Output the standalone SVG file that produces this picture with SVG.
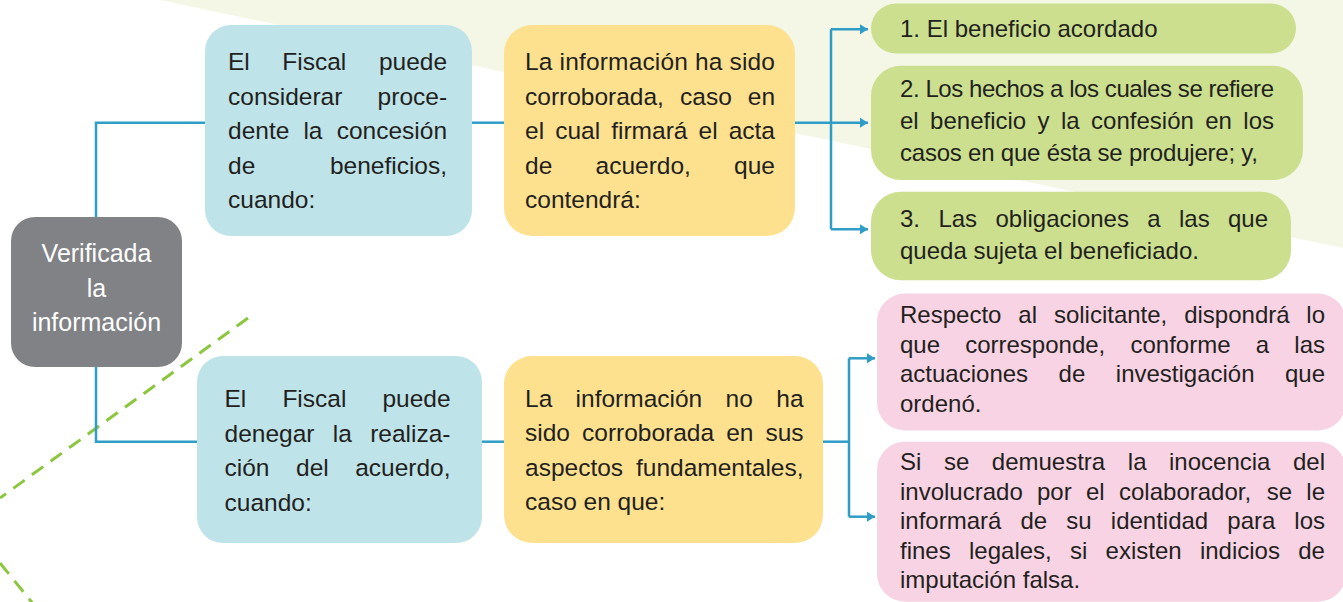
<svg xmlns="http://www.w3.org/2000/svg" width="1343" height="602" viewBox="0 0 1343 602">
<defs>
<style>
.t{font-family:"Liberation Sans",Arial,sans-serif;fill:#231f20}
.b{font-size:24.5px}
.s{font-size:24px}
.w{fill:#ffffff;font-size:25px}
.blue{fill:#bee3e8}
.orange{fill:#fde18f}
.green{fill:#cbdf8e}
.pink{fill:#f8d3e3}
.grey{fill:#818285}
.con{fill:none;stroke:#2f9dc6;stroke-width:2.5}
.dash{fill:none;stroke:#8cc63f;stroke-width:3;stroke-dasharray:14 9}
</style>
<marker id="arr" markerUnits="userSpaceOnUse" markerWidth="9" markerHeight="10" refX="8" refY="5" orient="auto">
<path d="M0,0 L8,5 L0,10 z" fill="#2f9dc6"/>
</marker>
</defs>
<rect width="1343" height="602" fill="#ffffff"/>
<polygon points="160,0 1343,0 1343,248" fill="#f4f7e6"/>
<line class="dash" x1="248" y1="318" x2="0" y2="498"/>
<line class="dash" x1="0" y1="563" x2="34" y2="605"/>

<g id="connectors">
<polyline class="con" points="96,217 96,122.7 205,122.7"/>
<polyline class="con" points="96,367 96,441.7 197,441.7"/>
<line class="con" x1="472" y1="122.7" x2="504" y2="122.7"/>
<line class="con" x1="482" y1="441.7" x2="504" y2="441.7"/>
<line class="con" x1="831" y1="29.3" x2="831" y2="229.3"/>
<line class="con" x1="795" y1="122.7" x2="868" y2="122.7" marker-end="url(#arr)"/>
<line class="con" x1="831" y1="29.3" x2="868" y2="29.3" marker-end="url(#arr)"/>
<line class="con" x1="831" y1="229.3" x2="868" y2="229.3" marker-end="url(#arr)"/>
<line class="con" x1="823" y1="441.7" x2="849" y2="441.7"/>
<line class="con" x1="849" y1="358.3" x2="849" y2="516.7"/>
<line class="con" x1="849" y1="358.3" x2="875" y2="358.3" marker-end="url(#arr)"/>
<line class="con" x1="849" y1="516.7" x2="875" y2="516.7" marker-end="url(#arr)"/>
</g>

<g id="node-verificada">
<rect class="grey" x="11" y="217" width="171" height="150" rx="24"/>
<text class="t w" text-anchor="middle"><tspan x="96.5" y="262">Verificada</tspan><tspan x="96.5" y="296.5">la</tspan><tspan x="96.5" y="331">información</tspan></text>
</g>

<g id="node-considerar">
<rect class="blue" x="205" y="25" width="267" height="211" rx="26"/>
<text class="t b"><tspan x="228" y="70">El</tspan> <tspan x="282.3" y="70">Fiscal</tspan> <tspan x="378.9" y="70">puede</tspan></text>
<text class="t b"><tspan x="228" y="104.5">considerar</tspan> <tspan x="377.6" y="104.5">proce-</tspan></text>
<text class="t b"><tspan x="228" y="139">dente</tspan> <tspan x="303.4" y="139">la</tspan> <tspan x="336.7" y="139">concesión</tspan></text>
<text class="t b"><tspan x="228" y="173.5">de</tspan> <tspan x="329.9" y="173.5">beneficios,</tspan></text>
<text class="t b" x="228" y="208">cuando:</text>
</g>

<g id="node-corroborada">
<rect class="orange" x="504" y="25" width="291" height="211" rx="28"/>
<text class="t b" x="525" y="70" textLength="250">La información ha sido</text>
<text class="t b"><tspan x="525" y="104.5">corroborada,</tspan> <tspan x="680" y="104.5">caso</tspan> <tspan x="747.8" y="104.5">en</tspan></text>
<text class="t b"><tspan x="525" y="139">el</tspan> <tspan x="555.2" y="139">cual</tspan> <tspan x="611.2" y="139">firmará</tspan> <tspan x="698.5" y="139">el</tspan> <tspan x="728.7" y="139">acta</tspan></text>
<text class="t b"><tspan x="525" y="173.5">de</tspan> <tspan x="595.5" y="173.5">acuerdo,</tspan> <tspan x="734.1" y="173.5">que</tspan></text>
<text class="t b" x="525" y="208">contendrá:</text>
</g>

<g id="node-denegar">
<rect class="blue" x="197" y="356" width="285" height="187" rx="26"/>
<text class="t b"><tspan x="224.5" y="407">El</tspan> <tspan x="282.4" y="407">Fiscal</tspan> <tspan x="382.4" y="407">puede</tspan></text>
<text class="t b"><tspan x="224.5" y="441.5">denegar</tspan> <tspan x="332.8" y="441.5">la</tspan> <tspan x="370.2" y="441.5">realiza-</tspan></text>
<text class="t b"><tspan x="224.5" y="476">ción</tspan> <tspan x="296" y="476">del</tspan> <tspan x="355.2" y="476">acuerdo,</tspan></text>
<text class="t b" x="224.5" y="510.5">cuando:</text>
</g>

<g id="node-no-corroborada">
<rect class="orange" x="504" y="356" width="319" height="187" rx="28"/>
<text class="t b"><tspan x="525" y="406.5">La</tspan> <tspan x="575.6" y="406.5">información</tspan> <tspan x="725.6" y="406.5">no</tspan> <tspan x="776.3" y="406.5">ha</tspan></text>
<text class="t b"><tspan x="525" y="441">sido</tspan> <tspan x="582" y="441">corroborada</tspan> <tspan x="726.2" y="441">en</tspan> <tspan x="765.4" y="441">sus</tspan></text>
<text class="t b"><tspan x="525" y="475.5">aspectos</tspan> <tspan x="636" y="475.5">fundamentales,</tspan></text>
<text class="t b" x="525" y="510">caso en que:</text>
</g>

<g id="node-1">
<rect class="green" x="871" y="3.5" width="425" height="50" rx="25"/>
<text class="t s" x="900" y="37">1. El beneficio acordado</text>
</g>

<g id="node-2">
<rect class="green" x="871" y="65.7" width="432" height="114.3" rx="30"/>
<text class="t s" x="900" y="97" textLength="374">2. Los hechos a los cuales se refiere</text>
<text class="t s"><tspan x="900" y="128.7">el</tspan> <tspan x="930.1" y="128.7">beneficio</tspan> <tspan x="1037.6" y="128.7">y</tspan> <tspan x="1061" y="128.7">la</tspan> <tspan x="1091.1" y="128.7">confesión</tspan> <tspan x="1205.2" y="128.7">en</tspan> <tspan x="1243.3" y="128.7">los</tspan></text>
<text class="t s" x="900" y="160.5" textLength="358">casos en que ésta se produjere; y,</text>
</g>

<g id="node-3">
<rect class="green" x="871" y="191.7" width="420" height="88.5" rx="30"/>
<text class="t s"><tspan x="900" y="226.7">3.</tspan> <tspan x="938.4" y="226.7">Las</tspan> <tspan x="995.5" y="226.7">obligaciones</tspan> <tspan x="1147.3" y="226.7">a</tspan> <tspan x="1179" y="226.7">las</tspan> <tspan x="1228" y="226.7">que</tspan></text>
<text class="t s" x="900" y="258.5">queda sujeta el beneficiado.</text>
</g>

<g id="node-solicitante">
<rect class="pink" x="877" y="293.5" width="469" height="137" rx="28"/>
<text class="t s"><tspan x="900" y="323">Respecto</tspan> <tspan x="1018.3" y="323">al</tspan> <tspan x="1053.9" y="323">solicitante,</tspan> <tspan x="1184.2" y="323">dispondrá</tspan> <tspan x="1306.3" y="323">lo</tspan></text>
<text class="t s"><tspan x="900" y="352.5">que</tspan> <tspan x="965.2" y="352.5">corresponde,</tspan> <tspan x="1130.5" y="352.5">conforme</tspan> <tspan x="1255.7" y="352.5">a</tspan> <tspan x="1294.3" y="352.5">las</tspan></text>
<text class="t s"><tspan x="900" y="382">actuaciones</tspan> <tspan x="1058.6" y="382">de</tspan> <tspan x="1115.8" y="382">investigación</tspan> <tspan x="1285" y="382">que</tspan></text>
<text class="t s" x="900" y="411.5">ordenó.</text>
</g>

<g id="node-inocencia">
<rect class="pink" x="877" y="441.7" width="469" height="160" rx="28"/>
<text class="t s"><tspan x="900" y="470">Si</tspan> <tspan x="943.9" y="470">se</tspan> <tspan x="991.8" y="470">demuestra</tspan> <tspan x="1127.8" y="470">la</tspan> <tspan x="1169" y="470">inocencia</tspan> <tspan x="1293" y="470">del</tspan></text>
<text class="t s"><tspan x="900" y="499.5">involucrado</tspan> <tspan x="1037" y="499.5">por</tspan> <tspan x="1086" y="499.5">el</tspan> <tspan x="1119" y="499.5">colaborador,</tspan> <tspan x="1266.7" y="499.5">se</tspan> <tspan x="1306.3" y="499.5">le</tspan></text>
<text class="t s"><tspan x="900" y="529">informará</tspan> <tspan x="1020.5" y="529">de</tspan> <tspan x="1066.3" y="529">su</tspan> <tspan x="1110.8" y="529">identidad</tspan> <tspan x="1227.3" y="529">para</tspan> <tspan x="1294.3" y="529">los</tspan></text>
<text class="t s"><tspan x="900" y="558.5">fines</tspan> <tspan x="969" y="558.5">legales,</tspan> <tspan x="1070" y="558.5">si</tspan> <tspan x="1105.6" y="558.5">existen</tspan> <tspan x="1199.9" y="558.5">indicios</tspan> <tspan x="1298.2" y="558.5">de</tspan></text>
<text class="t s" x="900" y="588">imputación falsa.</text>
</g>
</svg>
